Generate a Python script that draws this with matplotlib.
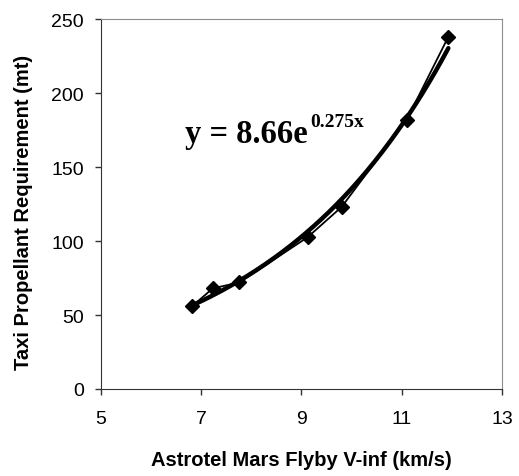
import numpy as np
import matplotlib.pyplot as plt

# Data
vinf = [6.82, 7.23, 7.76, 9.12, 9.80, 11.10, 11.93]
taxi_prop = [56, 68, 72, 102.5, 123, 182, 238]

# Exponential trendline coefficients (as printed on the chart)
coef_a = 8.66
coef_b = 0.275

x_ticks = [5, 7, 9, 11, 13]
y_ticks = [0, 50, 100, 150, 200, 250]

plt.rcParams['font.family'] = ['Liberation Sans', 'DejaVu Sans']

fig = plt.figure(figsize=(5.19, 4.77), dpi=100)
ax = fig.add_axes([0.1946, 0.1824, 0.7726, 0.7756])

# Trendline
xt = np.linspace(min(vinf), max(vinf), 200)
ax.plot(xt, coef_a * np.exp(coef_b * xt), color='black', lw=3.2, solid_capstyle='round')

# Data series
ax.plot(vinf, taxi_prop, color='black', lw=1.3, marker='D', markersize=7,
        markerfacecolor='black', markeredgecolor='black')

ax.set_xlim(5, 13)
ax.set_ylim(0, 250)
ax.set_xticks(x_ticks)
ax.set_yticks(y_ticks)
ax.tick_params(labelsize=14, length=4.3, width=1, color='#333333', direction='out')
ax.tick_params(axis='x', pad=11)
ax.tick_params(axis='y', pad=8)

for side in ['top', 'right']:
    ax.spines[side].set_color('#8c8c8c')
for side in ['left', 'bottom']:
    ax.spines[side].set_color('#333333')

ax.set_xlabel('Astrotel Mars Flyby V-inf (km/s)', fontsize=14.5, fontweight='bold')
ax.set_ylabel('Taxi Propellant Requirement (mt)', fontsize=14.5, fontweight='bold')
ax.xaxis.set_label_coords(0.5, -0.165)
ax.yaxis.set_label_coords(-0.17, 0.48)

# Trendline equation
ax.text(6.68, 167, 'y = 8.66e', fontsize=23.5, fontweight='bold', family='Liberation Serif')
ax.text(9.17, 177.5, '0.275x', fontsize=14, fontweight='bold', family='Liberation Serif')

fig.savefig('out.png', dpi=100)
